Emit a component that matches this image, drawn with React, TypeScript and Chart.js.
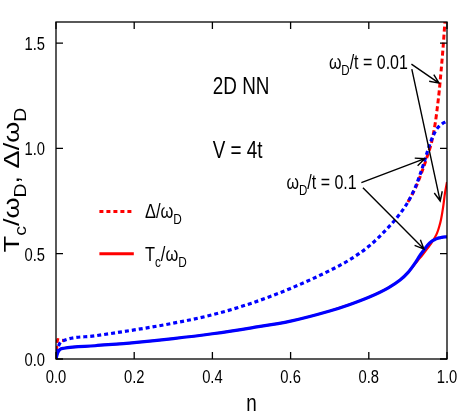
import React, { useEffect, useRef } from 'react';
import { Chart, registerables } from 'chart.js';

Chart.register(...registerables);

// filling n
const nGrid = [0, 0.004, 0.01, 0.02, 0.1, 0.2, 0.3, 0.4, 0.5, 0.6, 0.7, 0.75, 0.8, 0.85, 0.88, 0.9, 0.92, 0.93, 0.94, 0.95, 0.96, 0.97, 0.975, 0.98, 0.985, 0.99, 0.995, 1.0];
// Tc/ωD, ωD/t = 0.1 (blue solid)
const tcW01 = [0, 0.028, 0.045, 0.051, 0.063, 0.078, 0.097, 0.12, 0.148, 0.18, 0.228, 0.258, 0.293, 0.338, 0.375, 0.41, 0.46, 0.49, 0.515, 0.54, 0.558, 0.568, 0.572, 0.575, 0.577, 0.579, 0.58, 0.58];
// Tc/ωD, ωD/t = 0.01 (red solid)
const tcW001 = [0, 0.028, 0.045, 0.051, 0.063, 0.078, 0.097, 0.12, 0.148, 0.18, 0.228, 0.258, 0.293, 0.338, 0.375, 0.41, 0.455, 0.478, 0.5, 0.525, 0.55, 0.58, 0.6, 0.628, 0.665, 0.72, 0.79, 0.84];
// Δ/ωD, ωD/t = 0.1 (blue dashed)
const dW01 = [0.03, 0.05, 0.075, 0.088, 0.11, 0.138, 0.17, 0.21, 0.265, 0.335, 0.42, 0.47, 0.535, 0.625, 0.69, 0.745, 0.82, 0.87, 0.925, 0.985, 1.04, 1.08, 1.095, 1.105, 1.113, 1.12, 1.125, 1.13];
// Δ/ωD, ωD/t = 0.01 (red dashed)
const dW001 = [0, 0.092, 0.09, 0.088, 0.11, 0.138, 0.17, 0.21, 0.265, 0.335, 0.42, 0.47, 0.535, 0.625, 0.69, 0.745, 0.815, 0.86, 0.91, 0.965, 1.025, 1.12, 1.19, 1.27, 1.37, 1.48, 1.61, 1.75];

const xTicks = [0, 0.2, 0.4, 0.6, 0.8, 1.0];
const yTicks = [0, 0.5, 1.0, 1.5];
const xTickLabels = ['0.0', '0.2', '0.4', '0.6', '0.8', '1.0'];
const yTickLabels = ['0.0', '0.5', '1.0', '1.5'];

const FONT = "'Liberation Sans', Arial, Helvetica, sans-serif";
const SX = 0.82;

type Part = { t: string; sub?: boolean };

function measure(ctx: CanvasRenderingContext2D, parts: Part[], fs: number) {
  let w = 0;
  for (const p of parts) {
    ctx.font = `${p.sub ? fs * 0.72 : fs}px ${FONT}`;
    w += ctx.measureText(p.t).width;
  }
  return w;
}

function drawParts(
  ctx: CanvasRenderingContext2D,
  parts: Part[],
  x: number,
  y: number,
  fs: number,
  align: 'left' | 'right' | 'center',
  rotate = false
) {
  ctx.save();
  ctx.translate(x, y);
  if (rotate) {
    ctx.rotate(-Math.PI / 2);
    ctx.scale(1, SX);
  } else {
    ctx.scale(SX, 1);
  }
  const w = measure(ctx, parts, fs);
  let cx = align === 'left' ? 0 : align === 'right' ? -w : -w / 2;
  ctx.textBaseline = 'alphabetic';
  ctx.textAlign = 'left';
  ctx.fillStyle = '#000';
  for (const p of parts) {
    const s = p.sub ? fs * 0.72 : fs;
    ctx.font = `${s}px ${FONT}`;
    ctx.fillText(p.t, cx, p.sub ? fs * 0.3 : 0);
    cx += ctx.measureText(p.t).width;
  }
  ctx.restore();
}

function arrow(ctx: CanvasRenderingContext2D, x1: number, y1: number, x2: number, y2: number) {
  const a = Math.atan2(y2 - y1, x2 - x1);
  const L = 10;
  const sp = 0.42;
  ctx.beginPath();
  ctx.moveTo(x1, y1);
  ctx.lineTo(x2, y2);
  ctx.moveTo(x2 - L * Math.cos(a - sp), y2 - L * Math.sin(a - sp));
  ctx.lineTo(x2, y2);
  ctx.lineTo(x2 - L * Math.cos(a + sp), y2 - L * Math.sin(a + sp));
  ctx.stroke();
}

const annot = {
  id: 'annot',
  afterDraw(chart: any) {
    const ctx: CanvasRenderingContext2D = chart.ctx;
    const xs = chart.scales.x;
    const ys = chart.scales.y;
    const ca = chart.chartArea;
    const X = (v: number) => xs.getPixelForValue(v);
    const Y = (v: number) => ys.getPixelForValue(v);
    ctx.save();
    // frame
    ctx.strokeStyle = '#000';
    ctx.lineWidth = 1.3;
    ctx.strokeRect(ca.left, ca.top, ca.right - ca.left, ca.bottom - ca.top);
    // ticks (inward)
    const T = 7;
    ctx.beginPath();
    for (const t of xTicks) {
      const px = X(t);
      ctx.moveTo(px, ca.bottom);
      ctx.lineTo(px, ca.bottom - T);
      ctx.moveTo(px, ca.top);
      ctx.lineTo(px, ca.top + T);
    }
    for (const t of yTicks) {
      const py = Y(t);
      ctx.moveTo(ca.left, py);
      ctx.lineTo(ca.left + T, py);
      ctx.moveTo(ca.right, py);
      ctx.lineTo(ca.right - T, py);
    }
    ctx.stroke();
    // tick labels
    xTicks.forEach((t, i) => drawParts(ctx, [{ t: xTickLabels[i] }], X(t), ca.bottom + 24, 18, 'center'));
    yTicks.forEach((t, i) => drawParts(ctx, [{ t: yTickLabels[i] }], ca.left - 11, Y(t) + 7, 18, 'right'));
    // axis titles
    drawParts(ctx, [{ t: 'n' }], X(0.5), ca.bottom + 52, 23, 'center');
    drawParts(
      ctx,
      [{ t: 'T' }, { t: 'c', sub: true }, { t: '/ω' }, { t: 'D', sub: true }, { t: ', Δ/ω' }, { t: 'D', sub: true }],
      19,
      Y(0.85),
      27,
      'center',
      true
    );
    // text labels
    drawParts(ctx, [{ t: '2D NN' }], X(0.401), Y(1.257), 23, 'left');
    drawParts(ctx, [{ t: 'V = 4t' }], X(0.401), Y(0.956), 23, 'left');
    drawParts(ctx, [{ t: 'ω' }, { t: 'D', sub: true }, { t: '/t = 0.01' }], X(0.9), Y(1.376), 19.5, 'right');
    drawParts(ctx, [{ t: 'ω' }, { t: 'D', sub: true }, { t: '/t = 0.1' }], X(0.769), Y(0.805), 19.5, 'right');
    // arrows
    ctx.lineWidth = 1.4;
    ctx.strokeStyle = '#000';
    arrow(ctx, X(0.909), Y(1.4), X(0.9796), Y(1.31));
    arrow(ctx, X(0.91), Y(1.376), X(0.9826), Y(0.75));
    arrow(ctx, X(0.781), Y(0.837), X(0.943), Y(0.951));
    arrow(ctx, X(0.785), Y(0.813), X(0.941), Y(0.522));
    // legend
    ctx.strokeStyle = '#ff0000';
    ctx.lineWidth = 3;
    ctx.setLineDash([4, 3]);
    ctx.beginPath();
    ctx.moveTo(X(0.111), Y(0.7));
    ctx.lineTo(X(0.199), Y(0.7));
    ctx.stroke();
    ctx.setLineDash([]);
    ctx.beginPath();
    ctx.moveTo(X(0.111), Y(0.5));
    ctx.lineTo(X(0.199), Y(0.5));
    ctx.stroke();
    drawParts(ctx, [{ t: 'Δ/ω' }, { t: 'D', sub: true }], X(0.2275), Y(0.671), 20, 'left');
    drawParts(ctx, [{ t: 'T' }, { t: 'c', sub: true }, { t: '/ω' }, { t: 'D', sub: true }], X(0.2275), Y(0.467), 20, 'left');
    ctx.restore();
  },
};

const pts = (vals: number[]) => nGrid.map((n, i) => ({ x: n, y: vals[i] }));

// the red Δ curve lies exactly under the blue one where both coincide; keep it hidden there
const hiddenUnder = (a: number[], b: number[]) => (c: any) =>
  a[c.p0DataIndex] === b[c.p0DataIndex] && a[c.p1DataIndex] === b[c.p1DataIndex] ? 'rgba(0,0,0,0)' : undefined;

export default function App() {
  const ref = useRef<HTMLCanvasElement | null>(null);
  useEffect(() => {
    if (!ref.current) return;
    const common = { pointRadius: 0, fill: false, cubicInterpolationMode: 'monotone' as const, borderCapStyle: 'butt' as const };
    const chart = new Chart(ref.current, {
      type: 'line',
      data: {
        datasets: [
          { label: 'Tc/ωD (ωD/t=0.1)', data: pts(tcW01), borderColor: '#0000ff', borderWidth: 3.2, order: 1, ...common },
          { label: 'Δ/ωD (ωD/t=0.1)', data: pts(dW01), borderColor: '#0000ff', borderWidth: 3.2, borderDash: [4, 3], order: 2, ...common },
          { label: 'Tc/ωD (ωD/t=0.01)', data: pts(tcW001), borderColor: '#ff0000', borderWidth: 2.2, order: 3, ...common },
          {
            label: 'Δ/ωD (ωD/t=0.01)',
            data: pts(dW001),
            borderColor: '#ff0000',
            borderWidth: 3,
            borderDash: [5, 3],
            order: 4,
            segment: { borderColor: hiddenUnder(dW001, dW01) },
            ...common,
          },
        ],
      },
      options: {
        animation: false,
        responsive: false,
        layout: { padding: { left: 0, top: 22, right: 24, bottom: 0 } },
        plugins: { legend: { display: false }, tooltip: { enabled: false } },
        scales: {
          x: {
            type: 'linear',
            min: 0,
            max: 1,
            grid: { display: false },
            border: { display: false },
            ticks: { display: false },
            afterFit: (s: any) => {
              s.height = 56;
            },
          },
          y: {
            type: 'linear',
            min: 0,
            max: 1.6,
            grid: { display: false },
            border: { display: false },
            ticks: { display: false },
            afterFit: (s: any) => {
              s.width = 56;
            },
          },
        },
      },
      plugins: [annot],
    });
    return () => chart.destroy();
  }, []);
  return (
    <div style={{ position: 'fixed', left: 0, top: 0, width: 471, height: 415, background: '#fff' }}>
      <canvas ref={ref} width={471} height={415} style={{ display: 'block' }} />
    </div>
  );
}
